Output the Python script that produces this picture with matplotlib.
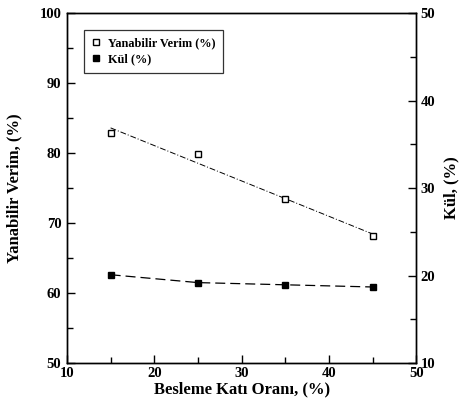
import matplotlib
matplotlib.use("Agg")
import matplotlib.pyplot as plt
import numpy as np
from matplotlib.ticker import MultipleLocator

plt.rcParams['font.family'] = ['Liberation Serif', 'DejaVu Serif']
plt.rcParams['font.weight'] = 'bold'

solids = [15, 25, 35, 45]
verim = [82.8, 79.8, 73.4, 68.1]
kul = [20.1, 19.2, 18.95, 18.7]

fig = plt.figure(figsize=(4.65, 4.08), dpi=100)
ax = fig.add_axes([0.144, 0.110, 0.751, 0.858])
ax2 = ax.twinx()

# Verim: markers + regression line
coef = np.polyfit(solids, verim, 1)
xf = np.array([solids[0], solids[-1]])
ax.plot(xf, np.polyval(coef, xf), color='black', lw=0.7, ls=(0, (6, 2, 1, 2)))
l1, = ax.plot(solids, verim, ls='none', marker='s', mfc='white', mec='black',
              ms=5, mew=1.0, label='Yanabilir Verim (%)')

# Kül: filled markers + dashed line
ax2.plot(solids, kul, color='black', lw=0.9, ls=(0, (8, 4)))
l2, = ax2.plot(solids, kul, ls='none', marker='s', mfc='black', mec='black',
               ms=4, label='Kül (%)')

ax.set_xlim(10, 50)
ax.set_ylim(50, 100)
ax2.set_ylim(10, 50)

ax.xaxis.set_major_locator(MultipleLocator(10))
ax.xaxis.set_minor_locator(MultipleLocator(5))
ax.yaxis.set_major_locator(MultipleLocator(10))
ax.yaxis.set_minor_locator(MultipleLocator(5))
ax2.yaxis.set_major_locator(MultipleLocator(10))
ax2.yaxis.set_minor_locator(MultipleLocator(5))

for a in (ax, ax2):
    a.tick_params(which='both', direction='in', labelsize=10.5, width=1.0)
    a.tick_params(which='major', length=6)
    a.tick_params(which='minor', length=4)
    for s in a.spines.values():
        s.set_linewidth(1.0)
ax.tick_params(axis='x', pad=3)
ax.tick_params(axis='y', pad=4)
ax2.tick_params(axis='y', pad=3)

ax.set_xlabel('Besleme Katı Oranı, (%)', fontsize=12, fontweight='bold', labelpad=1)
ax.set_ylabel('Yanabilir Verim, (%)', fontsize=12, fontweight='bold', labelpad=12)
ax2.set_ylabel('Kül, (%)', fontsize=12, fontweight='bold', labelpad=6)

leg = ax.legend(handles=[l1, l2], loc='upper left', bbox_to_anchor=(0.03, 0.97),
                fontsize=8.8, frameon=True, fancybox=False, edgecolor='black',
                handlelength=0.8, handletextpad=0.6, borderpad=0.6, labelspacing=0.35)
leg.get_frame().set_linewidth(0.9)

fig.savefig('out.png', dpi=100)
